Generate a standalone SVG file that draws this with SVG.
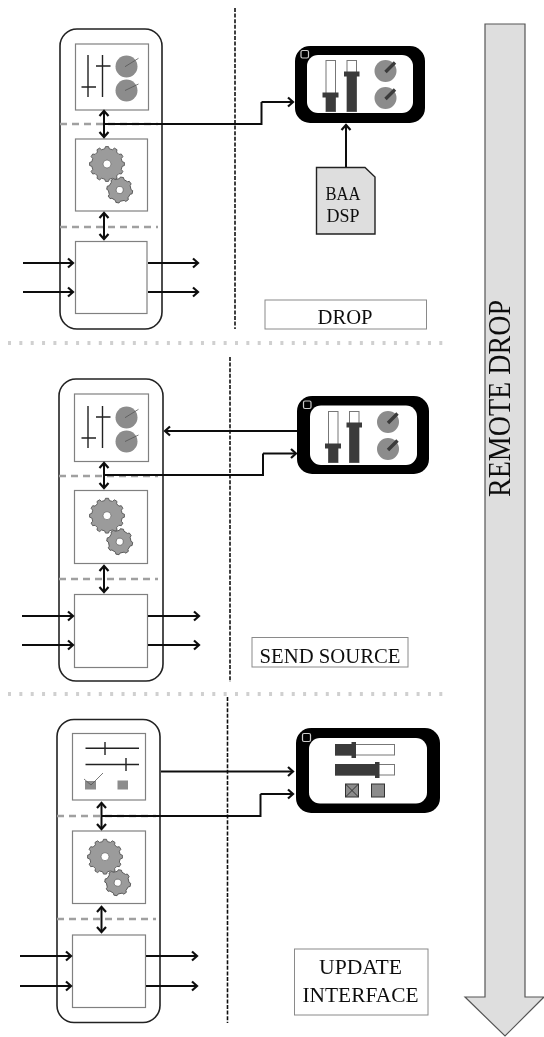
<svg xmlns="http://www.w3.org/2000/svg" xmlns:xlink="http://www.w3.org/1999/xlink" width="544" height="1037" viewBox="0 0 544 1037">
<style>
.outer{fill:#fff;stroke:#222;stroke-width:1.6}
.box{fill:#fff;stroke:#808080;stroke-width:1.2}
.sep{fill:none;stroke:#a0a0a0;stroke-width:2.4;stroke-dasharray:7 5}
.dots{fill:none;stroke:#d0d0d0;stroke-width:4;stroke-dasharray:3 8.35}
.vdash{fill:none;stroke:#111;stroke-width:1.6;stroke-dasharray:4 1.6}
.con{fill:none;stroke:#111;stroke-width:2}
.arrow{marker-end:url(#head)}
.both{marker-start:url(#head);marker-end:url(#head)}
.thin{fill:none;stroke:#222;stroke-width:1.4}
.hair{fill:none;stroke:#555;stroke-width:.8}
.knob{fill:#8c8c8c}
.gear{fill:#9b9b9b;stroke:#555;stroke-width:.9;stroke-linejoin:round}
.hole{fill:#fff;stroke:#555;stroke-width:.6}
.frame{fill:#000}
.screen{fill:#fff}
.corner{fill:none;stroke:#ccc;stroke-width:1.2}
.track{fill:#fff;stroke:#777;stroke-width:1}
.dark{fill:#3a3a3a}
.label{fill:#fff;stroke:#8a8a8a;stroke-width:1}
.t{font-family:"Liberation Serif",serif;fill:#111;text-anchor:middle;font-size:22px}
</style>
<defs>
<filter id="soft" x="0" y="0" width="100%" height="100%"><feGaussianBlur stdDeviation="0.4"/></filter>
<marker id="head" markerUnits="userSpaceOnUse" markerWidth="14" markerHeight="14" viewBox="-9 -7 11 14" refX="0" refY="0" orient="auto-start-reverse">
<path d="M-5,-4.500 L0,0 L-5,4.500" fill="none" stroke="#111" stroke-width="2.200"/>
</marker>
<g id="gears">
<path class="gear" d="M17.4,1.5L15.1,2.4L14.3,5.5L15.9,7.4L14.3,10L11.9,9.6L9.6,11.9L10,14.3L7.4,15.9L5.5,14.3L2.4,15.1L1.5,17.4L-1.5,17.4L-2.4,15.1L-5.5,14.3L-7.4,15.9L-10,14.3L-9.6,11.9L-11.9,9.6L-14.3,10L-15.9,7.4L-14.3,5.5L-15.1,2.4L-17.4,1.5L-17.4,-1.5L-15.1,-2.4L-14.3,-5.5L-15.9,-7.4L-14.3,-10L-11.9,-9.6L-9.6,-11.9L-10,-14.3L-7.4,-15.9L-5.5,-14.3L-2.4,-15.1L-1.5,-17.4L1.5,-17.4L2.4,-15.1L5.5,-14.3L7.4,-15.9L10,-14.3L9.6,-11.9L11.9,-9.6L14.3,-10L15.9,-7.4L14.3,-5.5L15.1,-2.4L17.4,-1.5Z"/>
<circle class="hole" r="4"/>
<g transform="translate(12.7,26) rotate(10)">
<path class="gear" d="M12.9,-1.6L12.9,1.6L11.1,2.3L9.5,6.2L10.2,8L8,10.2L6.2,9.5L2.3,11.1L1.6,12.9L-1.6,12.9L-2.3,11.1L-6.2,9.5L-8,10.2L-10.2,8L-9.5,6.2L-11.1,2.3L-12.9,1.6L-12.9,-1.6L-11.1,-2.3L-9.5,-6.2L-10.2,-8L-8,-10.2L-6.2,-9.5L-2.3,-11.1L-1.6,-12.9L1.6,-12.9L2.3,-11.1L6.2,-9.5L8,-10.2L10.2,-8L9.5,-6.2L11.1,-2.3Z"/>
<circle class="hole" r="3.5"/>
</g>
</g>
<g id="faders">
<path class="thin" d="M88,55V97M81.5,87H96M102.5,55V97M96,66H110.5"/>
<circle class="knob" cx="126.5" cy="66.5" r="11"/>
<circle class="knob" cx="126.5" cy="90.5" r="11"/>
<path class="hair" d="M125,66.7L138.5,58.3M125,90.5L138.5,84"/>
</g>
<g id="vfaders">
<rect class="track" x="0.5" y="0.5" width="9.500" height="51"/>
<rect class="track" x="21.5" y="0.5" width="9.500" height="51"/>
<rect class="dark" x="0.5" y="35" width="9.500" height="16.500"/>
<rect class="dark" x="-3" y="32.500" width="16" height="5"/>
<rect class="dark" x="21.5" y="14" width="9.500" height="37.500"/>
<rect class="dark" x="18.5" y="11.500" width="15.500" height="5"/>
<circle class="knob" cx="60" cy="11" r="11"/>
<circle class="knob" cx="60" cy="38" r="11"/>
<path d="M60,12L69.5,2.500M60,39L69.5,29.500" stroke="#3a3a3a" stroke-width="3.400" fill="none"/>
</g>
</defs>
<g filter="url(#soft)">
<rect x="0" y="0" width="544" height="1037" fill="#fff"/>
<g id="divider-lines">
<path class="dots" d="M8,343H445"/>
<path class="dots" d="M8,694H445"/>
<path class="vdash" d="M235,8V329"/>
<path class="vdash" d="M230,357V682"/>
<path class="vdash" d="M227.500,697V1023"/>
</g>

<g id="remote-drop">
<path d="M485,24H525V997H544L505,1036L465,997H485Z" fill="#dedede" stroke="#555" stroke-width="1.2"/>
<text class="t" style="font-size:31px" textLength="197" lengthAdjust="spacingAndGlyphs" transform="translate(510,398.500) rotate(-90)">REMOTE DROP</text>
</g>

<g id="host-1">
<rect class="outer" x="60" y="29" width="102" height="300" rx="17"/>
<path class="sep" d="M60,124H158M60,227H158"/>
<rect class="box" x="75.500" y="44" width="73" height="66"/>
<rect class="box" x="75.500" y="139" width="72" height="72"/>
<rect class="box" x="75.500" y="241.500" width="71.500" height="72"/>
<use xlink:href="#faders" href="#faders"/>
<use xlink:href="#gears" href="#gears" transform="translate(107,164)"/>
</g>
<g id="host-2">
<rect class="outer" x="59" y="379" width="104" height="302" rx="17"/>
<path class="sep" d="M59,476H158M59,579H158"/>
<rect class="box" x="74.500" y="394" width="74" height="67.500"/>
<rect class="box" x="74.500" y="490.500" width="73" height="73"/>
<rect class="box" x="74.500" y="594.500" width="73" height="73"/>
<use xlink:href="#faders" href="#faders" transform="translate(0,351)"/>
<use xlink:href="#gears" href="#gears" transform="translate(107,515.700)"/>
</g>
<g id="host-3">
<rect class="outer" x="57" y="719.500" width="103" height="303" rx="17"/>
<path class="sep" d="M57,816H156M57,919H156"/>
<rect class="box" x="72.500" y="733.500" width="73" height="66.500"/>
<rect class="box" x="72.500" y="831" width="73" height="72.500"/>
<rect class="box" x="72.500" y="935" width="73" height="72.500"/>
<path class="thin" d="M85.500,748.300H139M105,742V755M85.500,764.500H139M126,758V771"/>
<rect class="knob" x="85" y="781" width="11" height="8.500"/>
<rect class="knob" x="117.500" y="780.500" width="10.500" height="9"/>
<path class="hair" d="M84,779L91,785L103,773"/>
<use xlink:href="#gears" href="#gears" transform="translate(105,856.700)"/>
</g>

<g id="device-1">
<rect class="frame" x="295" y="46" width="130" height="77" rx="15"/>
<rect class="screen" x="307" y="55" width="106" height="58" rx="11"/>
<rect class="corner" x="301" y="50.500" width="7.500" height="7.500" rx="1.500"/>
<use xlink:href="#vfaders" href="#vfaders" transform="translate(325.500,60)"/>
</g>
<g id="device-2">
<rect class="frame" x="297" y="396" width="132" height="78" rx="15"/>
<rect class="screen" x="310" y="405.500" width="107" height="59.500" rx="11"/>
<rect class="corner" x="303.500" y="401" width="7.500" height="7.500" rx="1.500"/>
<use xlink:href="#vfaders" href="#vfaders" transform="translate(328,411)"/>
</g>
<g id="device-3">
<rect class="frame" x="296" y="728" width="144" height="85" rx="15"/>
<rect class="screen" x="309" y="738" width="118" height="65.500" rx="11"/>
<rect class="corner" x="302.500" y="733.500" width="8" height="8" rx="1.500"/>
<rect class="track" x="335.500" y="744.500" width="59" height="10.500"/>
<rect class="track" x="335.500" y="764.500" width="59" height="10.500"/>
<rect class="dark" x="335" y="744" width="17" height="11.500"/>
<rect class="dark" x="351.500" y="742" width="4.500" height="16"/>
<rect class="dark" x="335" y="764" width="41" height="11.500"/>
<rect class="dark" x="375" y="762" width="4.500" height="16"/>
<rect x="345.500" y="784" width="13" height="13" fill="#8c8c8c" stroke="#333" stroke-width="1"/>
<path d="M345.500,784L358.500,797M358.500,784L345.500,797" stroke="#333" stroke-width="1" fill="none"/>
<rect x="371.500" y="784" width="13" height="13" fill="#8c8c8c" stroke="#333" stroke-width="1"/>
</g>

<g id="baa-dsp">
<path d="M316.500,167.500H365L375,177V234H316.500Z" fill="#dedede" stroke="#222" stroke-width="1.400"/>
<text class="t" style="font-size:19px" x="343" y="200" textLength="35" lengthAdjust="spacingAndGlyphs">BAA</text>
<text class="t" style="font-size:19px" x="343" y="222" textLength="33" lengthAdjust="spacingAndGlyphs">DSP</text>
</g>

<g id="label-drop">
<rect class="label" x="265" y="300" width="161.500" height="29"/>
<text class="t" x="345" y="324" textLength="55" lengthAdjust="spacingAndGlyphs">DROP</text>
</g>
<g id="label-send-source">
<rect class="label" x="252" y="637.500" width="156" height="29.500"/>
<text class="t" x="330" y="663" textLength="141" lengthAdjust="spacingAndGlyphs">SEND SOURCE</text>
</g>
<g id="label-update-interface">
<rect class="label" x="294.500" y="949" width="133.500" height="66"/>
<text class="t" x="360.500" y="974" textLength="83" lengthAdjust="spacingAndGlyphs">UPDATE</text>
<text class="t" x="360.500" y="1001.500" textLength="116" lengthAdjust="spacingAndGlyphs">INTERFACE</text>
</g>

<g id="connectors">
<path class="con both" d="M104,111V137"/>
<path class="con both" d="M104,213V239"/>
<path class="con" d="M104,124H261.500V102"/>
<path class="con arrow" d="M261.500,102H293"/>
<path class="con arrow" d="M346,167V125"/>
<path class="con arrow" d="M23,263H73"/>
<path class="con arrow" d="M23,292H73"/>
<path class="con arrow" d="M148,263H198"/>
<path class="con arrow" d="M148,292H198"/>

<path class="con both" d="M104,463V488"/>
<path class="con both" d="M104,566V592"/>
<path class="con arrow" d="M297,431H165"/>
<path class="con" d="M104,475H263V453.500"/>
<path class="con arrow" d="M263,453.500H296"/>
<path class="con arrow" d="M22,616H73"/>
<path class="con arrow" d="M22,645H73"/>
<path class="con arrow" d="M148,616H199"/>
<path class="con arrow" d="M148,645H199"/>

<path class="con both" d="M101.500,803V829"/>
<path class="con both" d="M101.500,907V932"/>
<path class="con arrow" d="M161,771.500H293"/>
<path class="con" d="M102,816H260.500V794"/>
<path class="con arrow" d="M260.500,794H293"/>
<path class="con arrow" d="M20,956H71"/>
<path class="con arrow" d="M20,986H71"/>
<path class="con arrow" d="M146,956H197"/>
<path class="con arrow" d="M146,986H197"/>
</g>
</g>
</svg>
